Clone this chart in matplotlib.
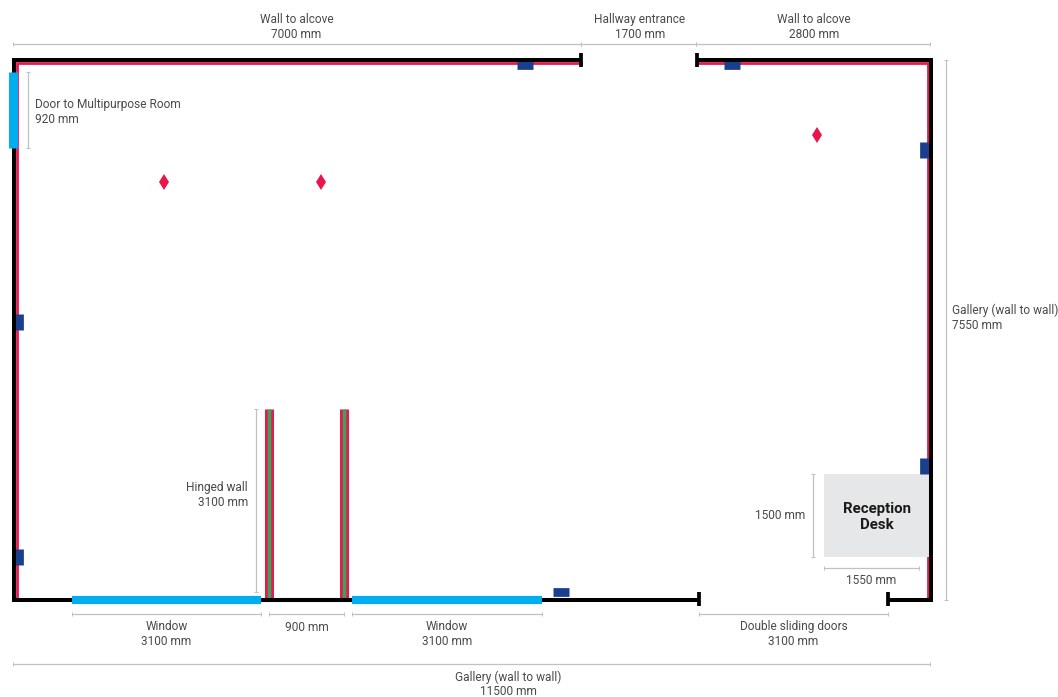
import matplotlib
matplotlib.use('Agg')
import matplotlib.pyplot as plt
from matplotlib.patches import Rectangle

plt.rcParams['font.family'] = ['Roboto', 'DejaVu Sans']

# floor plan, in mm from the inside bottom left corner
wall_left_x = [7108, 0, 0, 8595]
wall_left_y = [7550, 7550, 0, 0]
wall_right_x = [8570, 11500, 11500, 10972]
wall_right_y = [7550, 7550, 0, 0]
wall_mid_x = [3105, 4241]
wall_mid_y = [0, 0]

cap_top_x = [7108, 8570]
cap_top_y = [7452, 7648]
cap_bottom_x = [8595, 10972]
cap_bottom_y = [-91, 105]

red_left_x = [7108, 38, 38]
red_left_y = [7508, 7508, 21]
red_right_x = [8570, 11462, 11462]
red_right_y = [7508, 7508, 21]

hinged_x = [3194, 4135]
hinged_y = [0, 2666]

window_spans = [(728, 3105), (4241, 6625)]
window_y = 0
door_x = -18
door_span = (6318, 7382)

sockets_top_x = [6414, 9012]
sockets_top_y = 7473
sockets_bottom_x = [6863]
sockets_bottom_y = 105
sockets_left_y = [3883, 595]
sockets_left_x = 57
sockets_right_y = [6290, 1868]
sockets_right_x = 11412

diamond_x = [1882, 3852, 10075]
diamond_y = [5843, 5843, 6500]

desk_x = (10163, 11480)
desk_y = (595, 1756)

# dimension lines: start, end, fixed position
dims_h = [
    (-13, 7108, 7767), (7108, 8563, 7767), (8563, 11490, 7767),
    (728, 3105, -196), (3200, 4141, -196), (4241, 6625, -196),
    (8595, 10972, -196), (10163, 11355, 448), (-13, 11490, -903),
]
dims_v = [
    (6318, 7382, 176), (105, 2666, 3030), (0, 7550, 11694), (595, 1756, 10031),
]

# text, x, y, horizontal alignment
labels = [
    ('Wall to alcove\n7000 mm', 3545, 8010, 'center'),
    ('Hallway entrance\n1700 mm', 7854, 8010, 'center'),
    ('Wall to alcove\n2800 mm', 10037, 8010, 'center'),
    ('Door to Multipurpose Room\n920 mm', 263, 6820, 'left'),
    ('Gallery (wall to wall)\n7550 mm', 11769, 3945, 'left'),
    ('Hinged wall\n3100 mm', 2936, 1460, 'right'),
    ('Window\n3100 mm', 1913, -480, 'center'),
    ('900 mm', 3670, -385, 'center'),
    ('Window\n3100 mm', 5433, -480, 'center'),
    ('Double sliding doors\n3100 mm', 9780, -480, 'center'),
    ('Gallery (wall to wall)\n11500 mm', 6198, -1185, 'center'),
    ('1500 mm', 9925, 1170, 'right'),
    ('1550 mm', 10753, 265, 'center'),
]

BLACK = '#000000'
RED = '#e31c4f'
GREEN = '#3ba35a'
BLUE = '#00aeef'
NAVY = '#1a3f8f'
GREY = '#bfc1c3'
TEXT = '#4a4a4a'

fig = plt.figure(figsize=(10.58, 6.97), dpi=100)
ax = fig.add_axes([0, 0, 1, 1])
ax.set_xlim(-176, 13099)
ax.set_ylim(-1364, 8389)
ax.axis('off')

# red lining, then the desk over it
ax.plot(red_left_x, red_left_y, color=RED, lw=2.0, zorder=2, solid_joinstyle='miter')
ax.plot(red_right_x, red_right_y, color=RED, lw=2.0, zorder=2, solid_joinstyle='miter')
ax.add_patch(Rectangle((desk_x[0], desk_y[0]), desk_x[1] - desk_x[0], desk_y[1] - desk_y[0],
                       facecolor='#e6e7e8', edgecolor='none', zorder=3))
ax.text(10828, 1154, 'Reception\nDesk', ha='center', va='center', fontsize=10.8,
        fontweight='bold', color='#1a1a1a', linespacing=1.2, zorder=6)

# walls
for xs, ys in [(wall_left_x, wall_left_y), (wall_right_x, wall_right_y), (wall_mid_x, wall_mid_y)]:
    ax.plot(xs, ys, color=BLACK, lw=2.9, solid_capstyle='butt', solid_joinstyle='miter', zorder=4)
ax.vlines(cap_top_x, cap_top_y[0], cap_top_y[1], color=BLACK, lw=2.7, zorder=4)
ax.vlines(cap_bottom_x, cap_bottom_y[0], cap_bottom_y[1], color=BLACK, lw=2.7, zorder=4)

# hinged walls
for x in hinged_x:
    ax.plot([x, x], hinged_y, color=RED, lw=6.5, solid_capstyle='butt', zorder=3)
    ax.plot([x, x], hinged_y, color=GREEN, lw=2.5, solid_capstyle='butt', zorder=3)

# windows and door
for a, b in window_spans:
    ax.plot([a, b], [window_y, window_y], color=BLUE, lw=5.9, solid_capstyle='butt', zorder=5)
ax.plot([door_x, door_x], door_span, color=BLUE, lw=6.5, solid_capstyle='butt', zorder=5)

# navy wall units
half_w = 100
half_h = 112
for x in sockets_top_x:
    ax.plot([x - half_w, x + half_w], [sockets_top_y] * 2, color=NAVY, lw=6.3, solid_capstyle='butt', zorder=3)
for x in sockets_bottom_x:
    ax.plot([x - half_w, x + half_w], [sockets_bottom_y] * 2, color=NAVY, lw=6.3, solid_capstyle='butt', zorder=3)
for y in sockets_left_y:
    ax.plot([sockets_left_x] * 2, [y - half_h, y + half_h], color=NAVY, lw=6.3, solid_capstyle='butt', zorder=3)
for y in sockets_right_y:
    ax.plot([sockets_right_x] * 2, [y - half_h, y + half_h], color=NAVY, lw=6.3, solid_capstyle='butt', zorder=4)

ax.plot(diamond_x, diamond_y, linestyle='none', marker='d', color='#e8174b', ms=7.8, mew=0, zorder=5)

# dimension lines
for a, b, y in dims_h:
    ax.plot([a, b], [y, y], color=GREY, lw=0.9, marker='|', ms=3.5, mew=0.7, zorder=1)
for a, b, x in dims_v:
    ax.plot([x, x], [a, b], color=GREY, lw=0.9, marker='_', ms=3.5, mew=0.7, zorder=1)

for text, x, y, ha in labels:
    ax.text(x, y, text, ha=ha, va='center', fontsize=8.6, fontweight='normal',
            color=TEXT, linespacing=1.15, zorder=6)

fig.savefig('out.png', dpi=100)
